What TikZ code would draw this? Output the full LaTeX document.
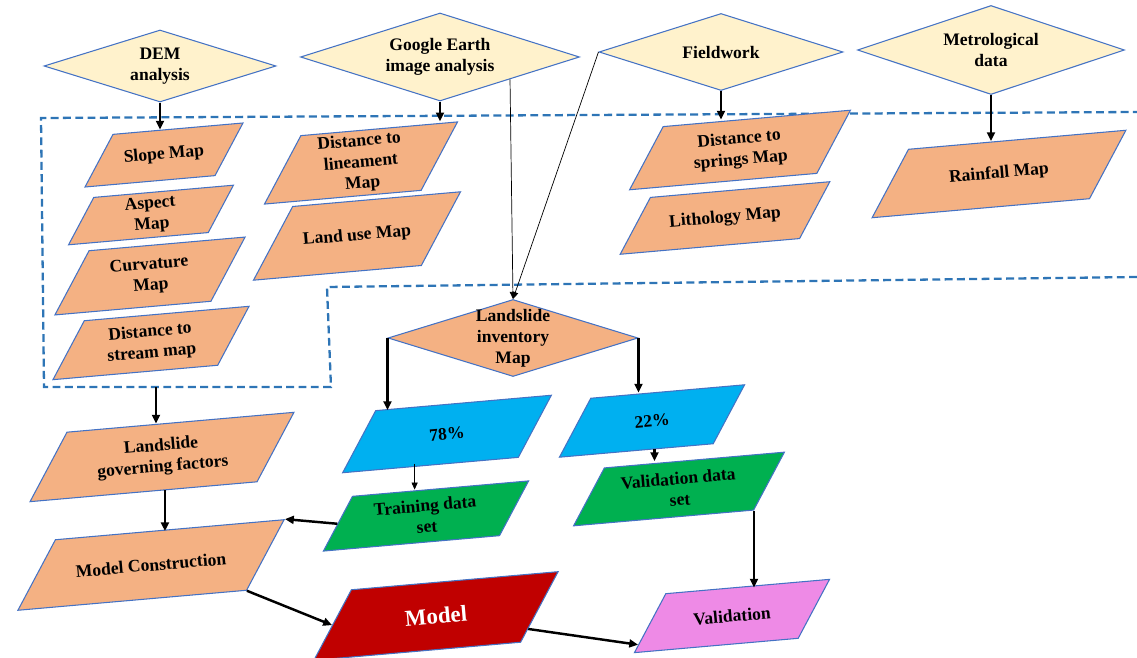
\documentclass[tikz,border=0pt]{standalone}
\usepackage{fontspec}
\setmainfont{Liberation Serif}
\usepackage{tikz}
\usetikzlibrary{positioning, shapes.geometric, arrows.meta, calc}

\definecolor{srcyellow}{HTML}{FFF2CC}
\definecolor{maporange}{HTML}{F4B183}
\definecolor{edgeblue}{HTML}{4472C4}
\definecolor{boxblue}{HTML}{2E75B6}
\definecolor{splitcyan}{HTML}{00B0F0}
\definecolor{setgreen}{HTML}{00B050}
\definecolor{modelred}{HTML}{C00000}
\definecolor{valviolet}{HTML}{EE8AE6}

\newlength{\pxunit}
\setlength{\pxunit}{0.02cm}
\newcommand{\boxtxt}[3]{\parbox[c][#2\pxunit][c]{#1\pxunit}{\centering #3}}

\begin{document}
\begin{tikzpicture}[x=0.02cm, y=-0.02cm,
                source/.style={draw=edgeblue, line width=0.6pt, diamond, aspect=3, fill=srcyellow, inner sep=1pt, align=center, font=\fontsize{10}{12}\selectfont\bfseries},
                para/.style={draw=edgeblue, line width=0.6pt, trapezium, trapezium left angle=57, trapezium right angle=123, rotate=5, fill=maporange, inner sep=0pt, font=\fontsize{10}{12}\selectfont\bfseries},
                dims/.style 2 args={minimum width=#1*0.02cm, minimum height=#2*0.02cm},
                edge/.style={line width=1.4pt, -{Triangle[length=5pt, width=4.5pt]}},
                thinedge/.style={line width=0.4pt, -{Triangle[length=4pt, width=3.5pt]}},
                region/.style={draw=boxblue, line width=1.3pt, dash pattern=on 4.5pt off 2.5pt}
            ]
            \useasboundingbox (0,0) rectangle (1137,658);

            % Rahmen der Faktoren
            \draw[region] (1137,277) -- (327,287) -- (331,387) -- (44,387) -- (41,118) -- (1137,112);
            \coordinate (regionbot) at (156,387);

            % Datenquellen
            \node[source, dims={232}{72}] (dem) at (160,66) {DEM\\analysis};
            \node[source, dims={279}{88}] (ge) at (440,57) {Google Earth\\image analysis};
            \node[source, dims={244}{77}] (fw) at (721,52) {Fieldwork};
            \node[source, dims={267}{89}] (met) at (991,50) {Metrological\\data};

            % Faktorkarten
            \node[para] (slope) at (164,155) {\boxtxt{98}{50}{Slope Map}};
            \node[para] (aspect) at (151,215) {\boxtxt{111}{45}{Aspect\\Map}};
            \node[para] (curv) at (150,276) {\boxtxt{117}{61}{Curvature\\Map}};
            \node[para] (stream) at (151,343) {\boxtxt{129}{56}{Distance to\\stream map}};
            \node[para] (lin) at (361,163) {\boxtxt{115}{65}{Distance to\\lineament\\Map}};
            \node[para] (land) at (357,236) {\boxtxt{123}{70}{Land use Map}};
            \node[para] (springs) at (740,150) {\boxtxt{149}{60}{Distance to\\springs Map}};
            \node[para] (litho) at (725,218) {\boxtxt{145}{54}{Lithology Map}};
            \node[para] (rain) at (999,174) {\boxtxt{176}{65}{Rainfall Map}};

            % Inventar und Aufteilung
            \node[source, fill=maporange, dims={250}{77}, inner sep=-5pt] (inv) at (513,338) {Landslide\\inventory\\Map};
            \node[para, fill=splitcyan] (p78) at (447,434) {\boxtxt{138}{59}{78\%}};
            \node[para, fill=splitcyan] (p22) at (652,421) {\boxtxt{118}{56}{22\%}};
            \node[para, fill=setgreen] (train) at (426,516) {\boxtxt{143}{52}{Training data\\set}};
            \node[para, fill=setgreen] (vdata) at (679,489) {\boxtxt{145}{55}{Validation data\\set}};

            % Modell
            \node[para] (lgf) at (162,457) {\boxtxt{185}{66}{Landslide\\governing factors}};
            \node[para] (mc) at (151,565) {\boxtxt{186}{67}{Model Construction}};
            \node[para, fill=modelred, text=white, font=\fontsize{13}{15}\selectfont\bfseries] (model) at (436,616) {\boxtxt{164}{67}{Model}};
            \node[para, fill=valviolet] (val) at (732,616) {\boxtxt{128}{56}{Validation}};

            % Kanten zwischen Knoten
            \draw[edge] (dem.south) -- (dem.south |- slope.north);
            \draw[edge] (ge.south) -- (ge.south |- lin.top right corner);
            \draw[edge] (fw.south) -- (fw.south |- springs.north);
            \draw[edge] (met.south) -- (met.south |- rain.north);
            \draw[thinedge] (ge.south east) -- (inv.north);
            \draw[thinedge] (fw.west) -- (inv.north);
            \draw[edge] (inv.west) -- (inv.west |- p78.top left corner);
            \draw[edge] (inv.east) -- (inv.east |- p22.north);
            \draw[thinedge] ([xshift=-0.7cm]p78.south) -- ([xshift=-0.7cm]p78.south |- train.north);
            \draw[edge] (p22.south) -- (p22.south |- vdata.north);
            \draw[edge] (regionbot) -- (regionbot |- lgf.north);
            \draw[edge] (lgf.south) -- (lgf.south |- mc.north);
            \draw[edge] (train.west) -- (mc.top right corner);
            \draw[edge] (mc.bottom right corner) -- (model.west);
            \draw[edge] (model.-13) -- (val.192);
            \draw[edge] (vdata.bottom right corner) -- (vdata.bottom right corner |- val.north);

        \end{tikzpicture}
\end{document}
